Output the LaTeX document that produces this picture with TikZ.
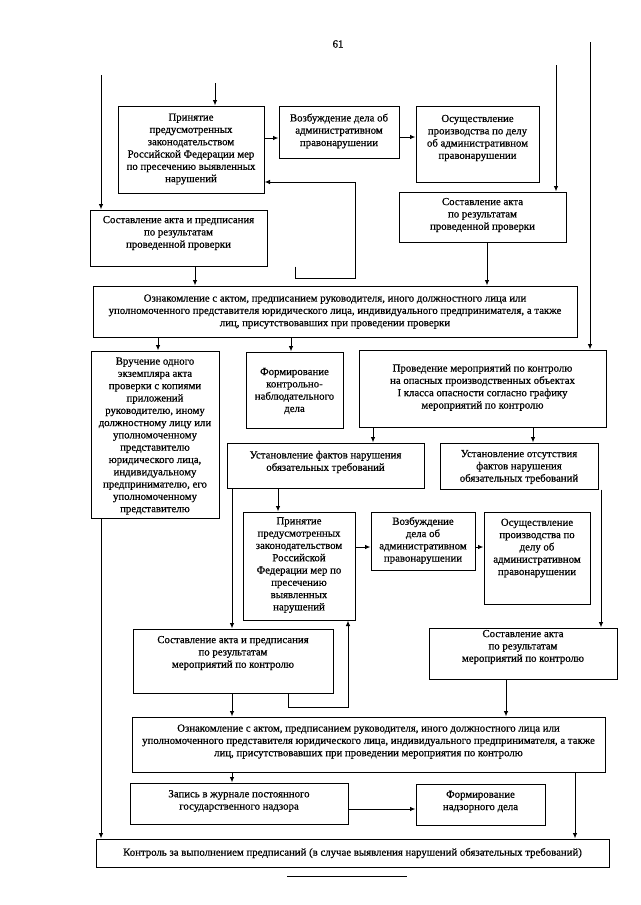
\documentclass[tikz,border=0pt]{standalone}
\usepackage{fontspec}
\setmainfont{Liberation Serif}[BoldFont={Liberation Serif}, BoldFeatures={FakeBold=0.6}]
\usetikzlibrary{arrows.meta}
\newcommand\mkbox[7]{%
  \node[box, minimum width={(#4-#2)*1pt}, minimum height={(#5-#3)*1pt}] (#1) at ({(#2+#4)/2},{(#3+#5)/2}) {};
  \node[txt] (#1t) at ({(#2+#4)/2},#6) {#7};}
\begin{document}
\begin{tikzpicture}[x=1pt,y=-1pt,
  box/.style={draw, line width=1pt, inner sep=0pt},
  txt/.style={align=center, inner sep=0pt, font=\fontsize{10.8}{12.3}\selectfont\bfseries},
  arr/.style={line width=1pt, -{Latex[length=5.5pt,width=4.5pt]}},
  ln/.style={line width=1pt}]
\useasboundingbox (0,0) rectangle (640,905);
\node[txt] (pnum) at (338,44) {61};

\mkbox{b1}{118}{106}{264}{193}{149}{Принятие\\предусмотренных\\законодательством\\Российской Федерации мер\\по пресечению выявленных\\нарушений}
\mkbox{b2}{279}{106}{399}{158}{131}{Возбуждение дела об\\административном\\правонарушении}
\mkbox{b3}{416}{106}{539}{182}{138}{Осуществление\\производства по делу\\об административном\\правонарушении}
\mkbox{b4}{399}{192}{566}{242}{215}{Составление акта\\по результатам\\проведенной проверки}
\mkbox{b5}{90}{210}{267}{266}{233}{Составление акта и предписания\\по результатам\\проведенной проверки}
\mkbox{b6}{93}{286}{577}{337}{311.5}{Ознакомление с актом, предписанием руководителя, иного должностного лица или\\уполномоченного представителя юридического лица, индивидуального предпринимателя, а также\\лиц, присутствовавших при проведении проверки}
\mkbox{b7}{91}{351}{219}{518}{436}{Вручение одного\\экземпляра акта\\проверки с копиями\\приложений\\руководителю, иному\\должностному лицу или\\уполномоченному\\представителю\\юридического лица,\\индивидуальному\\предпринимателю, его\\уполномоченному\\представителю}
\mkbox{b8}{246}{352}{343}{428}{391}{Формирование\\контрольно-\\наблюдательного\\дела}
\mkbox{b9}{359}{350}{606}{427}{387.5}{Проведение мероприятий по контролю\\на опасных производственных объектах\\I класса опасности согласно графику\\мероприятий по контролю}
\mkbox{b10}{227}{443}{424}{488}{462}{Установление фактов нарушения\\обязательных требований}
\mkbox{b11}{440}{443}{598}{489}{467}{Установление отсутствия\\фактов нарушения\\обязательных требований}
\mkbox{b12}{243}{512}{355}{620}{565}{Принятие\\предусмотренных\\законодательством\\Российской\\Федерации мер по\\пресечению\\выявленных\\нарушений}
\mkbox{b13}{371}{512}{475}{570}{540.5}{Возбуждение\\дела об\\административном\\правонарушении}
\mkbox{b14}{484}{512}{590}{604}{548}{Осуществление\\производства по\\делу об\\административном\\правонарушении}
\mkbox{b15}{133}{629}{333}{693}{653}{Составление акта и предписания\\по результатам\\мероприятий по контролю}
\mkbox{b16}{429}{628}{617}{679}{647}{Составление акта\\по результатам\\мероприятий по контролю}
\mkbox{b17}{132}{717}{605}{772}{741.5}{Ознакомление с актом, предписанием руководителя, иного должностного лица или\\уполномоченного представителя юридического лица, индивидуального предпринимателя, а также\\лиц, присутствовавших при проведении мероприятия по контролю}
\mkbox{b18}{130}{783}{348}{824}{801}{Запись в журнале постоянного\\государственного надзора}
\mkbox{b19}{416}{784}{545}{825}{801.5}{Формирование\\надзорного дела}
\mkbox{b20}{96}{839}{609}{867}{853}{Контроль за выполнением предписаний (в случае выявления нарушений обязательных требований)}

% free ends
\coordinate (s1) at (215,83);
\coordinate (s2) at (556,65);
\coordinate (s3) at (590,42);
\coordinate (s4) at (101,75);
\coordinate (f1) at (287,876);
\coordinate (f2) at (407,876);

\draw[arr] (s1) -- (b1.north -| s1);
\draw[arr] (b1.east |- 0,138) -- (b2.west |- 0,138);
\draw[arr] (b2.east |- 0,137) -- (b3.west |- 0,137);
\draw[arr] (s2) -- (b4.north -| s2);
\draw[arr] (s3) -- (b9.north -| s3);
\draw[arr] (s4) -- (b5.north -| s4);
\draw[arr] (b5.south -| 195,0) -- (b6.north -| 195,0);
\draw[arr] (b5.south -| 295,0) -- (295,278) -- (355,278) -- (355,182) -- (b1.east |- 0,182);
\draw[arr] (b4.south -| 487,0) -- (b6.north -| 487,0);
\draw[arr] (b6.south -| 158,0) -- (b7.north -| 158,0);
\draw[arr] (b6.south -| 291,0) -- (b8.north -| 291,0);
\draw[arr] (b7.south -| s4) -- (b20.north -| s4);
\draw[arr] (b9.south -| 373,0) -- (b10.north -| 373,0);
\draw[arr] (b9.south -| 533,0) -- (b11.north -| 533,0);
\draw[arr] (b10.south -| 232,0) -- (b15.north -| 232,0);
\draw[arr] (b10.south -| 278,0) -- (b12.north -| 278,0);
\draw[arr] (b12.east |- 0,547) -- (b13.west |- 0,547);
\draw[arr] (b13.east |- 0,547) -- (b14.west |- 0,547);
\draw[arr] (b11.south -| 601,0) -- (b16.north -| 601,0);
\draw[arr] (b15.south -| 288,0) -- (288,707) -- (348,707) -- (b12.south -| 348,0);
\draw[arr] (b15.south -| 232,0) -- (b17.north -| 232,0);
\draw[arr] (b16.south -| 506,0) -- (b17.north -| 506,0);
\draw[arr] (b17.south -| 232,0) -- (b18.north -| 232,0);
\draw[arr] (b18.east |- 0,809) -- (b19.west |- 0,809);
\draw[arr] (b17.south -| 575,0) -- (b20.north -| 575,0);
\draw[ln] (f1) -- (f2);
\end{tikzpicture}
\end{document}
